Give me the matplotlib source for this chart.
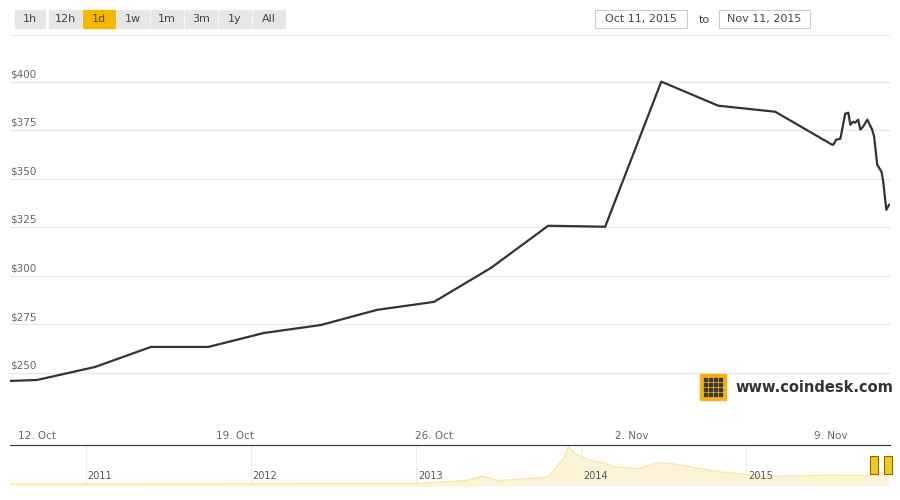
import numpy as np
import matplotlib.pyplot as plt
from matplotlib.patches import Rectangle

# day offsets from 12 Oct 2015, price in USD
days = [-0.95, 0, 2.05, 4.02, 6.04, 8.01, 10.02, 12.0, 14.01, 16.02, 18.04, 20.05,
        22.03, 24.04, 26.05, 28.06, 28.1, 28.2, 28.35, 28.52, 28.63, 28.7, 28.8,
        28.87, 28.98, 29.05, 29.15, 29.3, 29.47, 29.54, 29.65, 29.8, 29.86, 29.97, 30.07]
price = [245.9, 246.4, 253.1, 263.4, 263.4, 270.6, 274.7, 282.5, 286.6, 304.1, 325.8, 325.3,
         400.0, 387.6, 384.5, 367.5, 367.5, 370.1, 370.6, 383.5, 384.0, 377.8, 379.4,
         378.9, 380.4, 375.3, 376.8, 380.4, 375.3, 371.6, 357.2, 353.6, 348.5, 334.0, 336.6]
xtick_pos = [0, 7, 14, 21, 28]
xtick_lab = ['12. Oct', '19. Oct', '26. Oct', '2. Nov', '9. Nov']
yticks = [250, 275, 300, 325, 350, 375, 400]

nav_year = [2010.54, 2013.0, 2013.3, 2013.4, 2013.5, 2013.8, 2013.9, 2013.92, 2013.96, 2014.05,
            2014.15, 2014.2, 2014.35, 2014.45, 2014.55, 2014.7, 2014.85, 2015.0, 2015.05,
            2015.3, 2015.5, 2015.75, 2015.8, 2015.86]
nav_price = [0, 13, 100, 230, 100, 200, 800, 1100, 900, 700, 600, 500, 450, 620, 600, 470,
             350, 280, 220, 240, 260, 250, 310, 340]
nav_years = [2011, 2012, 2013, 2014, 2015]
buttons = ['1h', '12h', '1d', '1w', '1m', '3m', '1y', 'All']

W, H = 900, 500
fig = plt.figure(figsize=(9, 5), dpi=100)

def px(x0, y0, x1, y1):
    return [x0 / W, 1 - y1 / H, (x1 - x0) / W, (y1 - y0) / H]

ax = fig.add_axes(px(10, 35, 890, 420))
ax.plot(days, price, color='#333333', lw=1.6)
ax.set_xlim(-0.95, 30.1)
ax.set_ylim(225.8, 424)
for v in yticks:
    ax.axhline(v, color='#e6e6e6', lw=0.8, zorder=0)
    ax.text(0.0, v + 1.2, f'${v}', transform=ax.get_yaxis_transform(), fontsize=7.5,
            color='#666666', va='bottom', ha='left')
ax.set_yticks([])
ax.set_xticks(xtick_pos)
ax.set_xticklabels(xtick_lab, fontsize=7.5, color='#666666')
ax.tick_params(axis='x', length=0, pad=8)
for s in ax.spines.values():
    s.set_visible(False)
ax.axhline(424, color='#e6e6e6', lw=0.8)

# coindesk logo
fig.patches.append(Rectangle((700 / W, 1 - 400 / H), 26 / W, 26 / H,
                             transform=fig.transFigure, color='#f3b21b'))
for i in range(4):
    for j in range(4):
        fig.patches.append(Rectangle(((704 + 5 * i) / W, 1 - (396 - 5 * j) / H), 3 / W, 3 / H,
                                     transform=fig.transFigure, color='#3a3a3a'))
fig.text(735 / W, 1 - 387 / H, 'www.coindesk.com', fontsize=10.5, fontweight='bold',
         color='#333333', va='center')

# navigator
nav = fig.add_axes(px(10, 445, 890, 486))
nav.fill_between(nav_year, nav_price, -60, color='#fdf3d6', lw=0)
nav.plot(nav_year, nav_price, color='#fbe7a8', lw=1)
nav.set_xlim(2010.54, 2015.87)
nav.set_ylim(-60, 1150)
for y in nav_years:
    nav.axvline(y, color='#ececec', lw=0.8, zorder=0)
    nav.text(y + 0.01, 0.12, str(y), transform=nav.get_xaxis_transform(), fontsize=7,
             color='#555555', va='bottom')
nav.set_xticks([])
nav.set_yticks([])
for k, s in nav.spines.items():
    s.set_visible(k == 'top')
nav.spines['top'].set_color('#333333')
for hx in [874, 888]:
    fig.patches.append(Rectangle(((hx - 4) / W, 1 - 474 / H), 8 / W, 18 / H,
                                 transform=fig.transFigure, facecolor='#f3c623',
                                 edgecolor='#8a6d00', lw=0.8))

# buttons
bx = [15, 49, 83, 117, 151, 185, 219, 253]
for lab, x0 in zip(buttons, bx):
    w = 32 if lab != '1h' else 30
    col = '#f5b800' if lab == '1d' else '#e6e6e6'
    fig.patches.append(Rectangle((x0 / W, 1 - 28 / H), w / W, 18 / H,
                                 transform=fig.transFigure, color=col))
    fig.text((x0 + w / 2) / W, 1 - 19 / H, lab, fontsize=8, color='#444444',
             ha='center', va='center')
for x0, x1, lab in [(595, 687, 'Oct 11, 2015'), (719, 810, 'Nov 11, 2015')]:
    fig.patches.append(Rectangle((x0 / W, 1 - 28 / H), (x1 - x0) / W, 18 / H,
                                 transform=fig.transFigure, facecolor='white',
                                 edgecolor='#cccccc', lw=0.8))
    fig.text((x0 + x1) / 2 / W, 1 - 19 / H, lab, fontsize=8, color='#444444',
             ha='center', va='center')
fig.text(704 / W, 1 - 20 / H, 'to', fontsize=8, color='#444444', ha='center', va='center')

fig.savefig('out.png', dpi=100)
